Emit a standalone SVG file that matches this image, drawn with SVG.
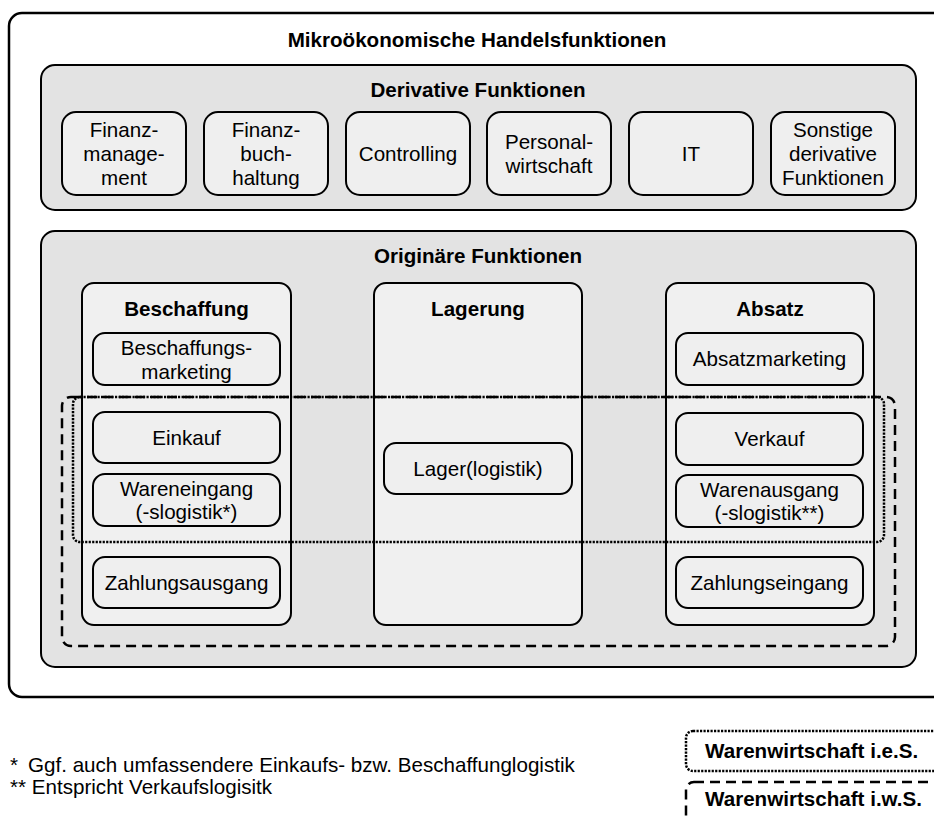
<svg xmlns="http://www.w3.org/2000/svg" width="934" height="821" viewBox="0 0 934 821">
  <style>
    text { font-family: "Liberation Sans", Arial, sans-serif; font-size: 20.6px; fill: #000; text-anchor: middle; }
    .b { font-weight: bold; }
    .l { text-anchor: start; }
    .frame { fill: #fff; stroke: #000; stroke-width: 2.5; }
    .panel { fill: #e3e3e3; stroke: #000; stroke-width: 2; }
    .box { fill: #efefef; stroke: #000; stroke-width: 2; }
    .col { fill: #f0f0f0; stroke: #000; stroke-width: 2; }
    .dash { fill: none; stroke: #000; stroke-width: 2.5; stroke-dasharray: 10 6; }
    .dot { fill: none; stroke: #000; stroke-width: 2.5; stroke-dasharray: 2.2 1.3; }
  </style>

  <!-- outer frame -->
  <g id="handelsfunktionen">
    <rect class="frame" x="9" y="13" width="950" height="684" rx="13"/>
    <text class="b" x="477" y="47">Mikroökonomische Handelsfunktionen</text>
  </g>

  <!-- derivative functions -->
  <g id="derivative">
    <rect class="panel" x="41" y="65" width="875" height="145" rx="14"/>
    <text class="b" x="478" y="97">Derivative Funktionen</text>
  </g>
  <g id="finanzmanagement">
    <rect class="box" x="62" y="112" width="124" height="83" rx="14"/>
    <text x="124" y="137">Finanz-</text>
    <text x="124" y="161">manage-</text>
    <text x="124" y="185">ment</text>
  </g>
  <g id="finanzbuchhaltung">
    <rect class="box" x="204" y="112" width="124" height="83" rx="14"/>
    <text x="266" y="137">Finanz-</text>
    <text x="266" y="161">buch-</text>
    <text x="266" y="185">haltung</text>
  </g>
  <g id="controlling">
    <rect class="box" x="346" y="112" width="124" height="83" rx="14"/>
    <text x="408" y="161">Controlling</text>
  </g>
  <g id="personalwirtschaft">
    <rect class="box" x="487" y="112" width="124" height="83" rx="14"/>
    <text x="549" y="149">Personal-</text>
    <text x="549" y="173">wirtschaft</text>
  </g>
  <g id="it">
    <rect class="box" x="629" y="112" width="124" height="83" rx="14"/>
    <text x="691" y="161">IT</text>
  </g>
  <g id="sonstige">
    <rect class="box" x="771" y="112" width="124" height="83" rx="14"/>
    <text x="833" y="137">Sonstige</text>
    <text x="833" y="161">derivative</text>
    <text x="833" y="185">Funktionen</text>
  </g>

  <!-- original functions -->
  <g id="originaere">
    <rect class="panel" x="41" y="231" width="875" height="436" rx="14"/>
    <text class="b" x="478" y="263">Originäre Funktionen</text>
  </g>
  <g id="beschaffung">
    <rect class="col" x="82" y="283" width="209" height="342" rx="12"/>
    <text class="b" x="186.5" y="316">Beschaffung</text>
  </g>
  <g id="lagerung">
    <rect class="col" x="374" y="283" width="208" height="342" rx="12"/>
    <text class="b" x="478" y="316">Lagerung</text>
  </g>
  <g id="absatz">
    <rect class="col" x="666" y="283" width="208" height="342" rx="12"/>
    <text class="b" x="770" y="316">Absatz</text>
  </g>

  <!-- scope outlines: dotted = i.e.S., dashed = i.w.S. -->
  <g id="bereiche">
    <rect class="dash" x="62" y="397" width="833" height="249" rx="9"/>
    <rect class="dot" x="73" y="397" width="811" height="145" rx="7"/>
  </g>

  <g id="beschaffungsmarketing">
    <rect class="box" x="93" y="333" width="187" height="52" rx="12"/>
    <text x="186.5" y="355">Beschaffungs-</text>
    <text x="186.5" y="379">marketing</text>
  </g>
  <g id="einkauf">
    <rect class="box" x="93" y="412" width="187" height="51" rx="12"/>
    <text x="186.5" y="445">Einkauf</text>
  </g>
  <g id="wareneingang">
    <rect class="box" x="93" y="474" width="187" height="52" rx="12"/>
    <text x="186.5" y="496">Wareneingang</text>
    <text x="186.5" y="519">(-slogistik*)</text>
  </g>
  <g id="zahlungsausgang">
    <rect class="box" x="93" y="557" width="187" height="51" rx="12"/>
    <text x="186.5" y="590">Zahlungsausgang</text>
  </g>

  <g id="lagerlogistik">
    <rect class="box" x="384" y="443" width="188" height="51" rx="12"/>
    <text x="478" y="476">Lager(logistik)</text>
  </g>

  <g id="absatzmarketing">
    <rect class="box" x="676" y="333" width="187" height="52" rx="12"/>
    <text x="769.5" y="366">Absatzmarketing</text>
  </g>
  <g id="verkauf">
    <rect class="box" x="676" y="413" width="187" height="52" rx="12"/>
    <text x="769.5" y="446">Verkauf</text>
  </g>
  <g id="warenausgang">
    <rect class="box" x="676" y="475" width="187" height="52" rx="12"/>
    <text x="769.5" y="497">Warenausgang</text>
    <text x="769.5" y="520">(-slogistik**)</text>
  </g>
  <g id="zahlungseingang">
    <rect class="box" x="676" y="557" width="187" height="51" rx="12"/>
    <text x="769.5" y="590">Zahlungseingang</text>
  </g>

  <!-- footnotes -->
  <g id="fussnoten">
    <text class="l" x="10" y="772">*</text>
    <text class="l" x="28" y="772">Ggf. auch umfassendere Einkaufs- bzw. Beschaffunglogistik</text>
    <text class="l" x="10" y="794">** Entspricht Verkaufslogisitk</text>
  </g>

  <!-- legend -->
  <g id="legende-ies">
    <rect class="dot" x="686" y="731" width="270" height="40" rx="7"/>
    <text class="b l" x="705" y="758">Warenwirtschaft i.e.S.</text>
  </g>
  <g id="legende-iws">
    <rect class="dash" x="686" y="782" width="270" height="60" rx="8"/>
    <text class="b l" x="705" y="806">Warenwirtschaft i.w.S.</text>
  </g>
</svg>
